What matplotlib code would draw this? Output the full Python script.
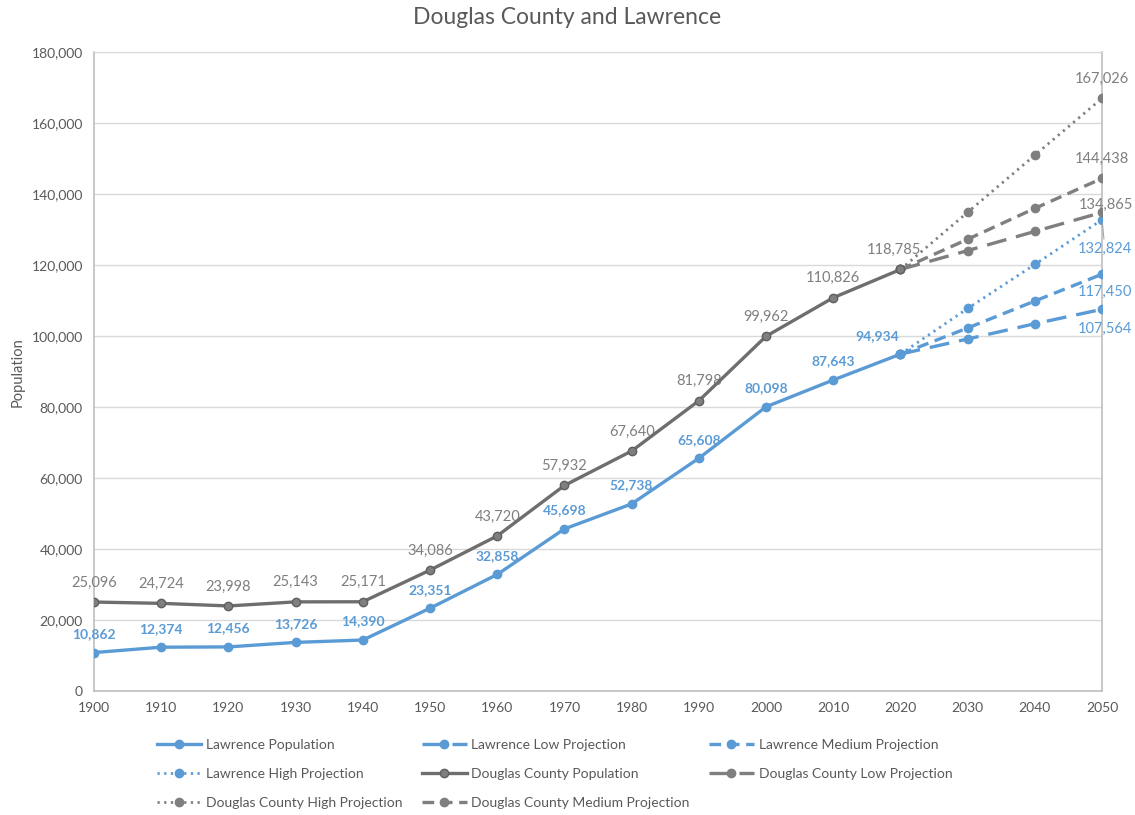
import matplotlib.pyplot as plt
from matplotlib.ticker import FuncFormatter

plt.rcParams['font.family'] = ['Lato', 'DejaVu Sans']

years = [1900, 1910, 1920, 1930, 1940, 1950, 1960, 1970, 1980, 1990, 2000, 2010, 2020]
lawrence = [10862, 12374, 12456, 13726, 14390, 23351, 32858, 45698, 52738, 65608, 80098, 87643, 94934]
douglas = [25096, 24724, 23998, 25143, 25171, 34086, 43720, 57932, 67640, 81798, 99962, 110826, 118785]

proj_years = [2020, 2030, 2040, 2050]
law_low = [94934, 99200, 103500, 107564]
law_med = [94934, 102300, 109900, 117450]
law_high = [94934, 107800, 120200, 132824]
dc_low = [118785, 124100, 129500, 134865]
dc_med = [118785, 127300, 136000, 144438]
dc_high = [118785, 134900, 151000, 167026]

BLUE = '#5B9BD5'
GRAY = '#7F7F7F'
DGRAY = '#6E6E6E'
TXT = '#595959'

fig = plt.figure(figsize=(11.35, 8.15), dpi=100)
ax = fig.add_axes([0.0828, 0.152, 0.8882, 0.784])

lw = 2.4
h = {}
h['lp'], = ax.plot(years, lawrence, color=BLUE, lw=lw, marker='o', ms=6,
                   label='Lawrence Population', zorder=4)
h['ll'], = ax.plot(proj_years, law_low, color=BLUE, lw=lw, ls=(0, (6, 3)), marker='o', ms=6,
                   label='Lawrence Low Projection', zorder=3)
h['lm'], = ax.plot(proj_years, law_med, color=BLUE, lw=lw, ls=(0, (3.5, 2)), marker='o', ms=6,
                   label='Lawrence Medium Projection', zorder=3)
h['lh'], = ax.plot(proj_years, law_high, color=BLUE, lw=2, ls=(0, (0.8, 1.6)), marker='o', ms=6,
                   label='Lawrence High Projection', zorder=3)
h['dp'], = ax.plot(years, douglas, color=DGRAY, lw=lw, marker='o', ms=6, mfc=GRAY, mec='#5f5f5f',
                   label='Douglas County Population', zorder=4)
h['dl'], = ax.plot(proj_years, dc_low, color=GRAY, lw=lw, ls=(0, (6, 3)), marker='o', ms=6,
                   label='Douglas County Low Projection', zorder=3)
h['dh'], = ax.plot(proj_years, dc_high, color=GRAY, lw=2, ls=(0, (0.8, 1.6)), marker='o', ms=6,
                   label='Douglas County High Projection', zorder=3)
h['dm'], = ax.plot(proj_years, dc_med, color=GRAY, lw=lw, ls=(0, (3.5, 2)), marker='o', ms=6,
                   label='Douglas County Medium Projection', zorder=3)

# data labels
for x, y in zip(years, lawrence):
    dx = -17 if x == 2020 else 0
    ax.annotate(f'{y:,}', (x, y), xytext=(dx, 9), textcoords='offset points',
                ha='center', va='bottom', color=BLUE, fontsize=10, fontweight='bold')
for x, y in zip(years, douglas):
    dx = -4.5 if x == 2020 else 0
    ax.annotate(f'{y:,}', (x, y), xytext=(dx, 9), textcoords='offset points',
                ha='center', va='bottom', color=GRAY, fontsize=10.5)

for s, dy in ((law_low, -9), (law_med, -8)):
    ax.annotate(f'{s[-1]:,}', (proj_years[-1], s[-1]), xytext=(2, dy), textcoords='offset points',
                ha='center', va='top', color=BLUE, fontsize=10.5, annotation_clip=False)
ax.annotate(f'{law_high[-1]:,}', (proj_years[-1], law_high[-1]), xytext=(2, -16),
            textcoords='offset points', ha='center', va='top', color=BLUE, fontsize=10.5,
            annotation_clip=False,
            arrowprops=dict(arrowstyle='-', color='#A6A6A6', lw=0.8, shrinkA=0, shrinkB=3))
for s in (dc_med, dc_high):
    ax.annotate(f'{s[-1]:,}', (proj_years[-1], s[-1]), xytext=(0, 9), textcoords='offset points',
                ha='center', va='bottom', color=GRAY, fontsize=10.5, annotation_clip=False)
ax.annotate(f'{dc_low[-1]:,}', (proj_years[-1], dc_low[-1]), xytext=(2.5, 0), textcoords='offset points',
            ha='center', va='bottom', color=GRAY, fontsize=10.5, annotation_clip=False)

ax.set_xlim(1900, 2050)
ax.set_ylim(0, 180000)
ax.set_xticks(range(1900, 2051, 10))
ax.set_yticks(range(0, 180001, 20000))
ax.yaxis.set_major_formatter(FuncFormatter(lambda v, p: f'{int(v):,}'))
ax.tick_params(length=0, labelsize=10, colors=TXT, pad=8)
ax.grid(axis='y', color='#D9D9D9', lw=1)
ax.set_axisbelow(True)
for side in ('left', 'right', 'bottom'):
    ax.spines[side].set_color('#BFBFBF')
    ax.spines[side].set_linewidth(1.2)
ax.spines['top'].set_color('#D9D9D9')

ax.set_ylabel('Population', color=TXT, fontsize=10.5, labelpad=5)
fig.text(0.5, 1 - 17 / 815, 'Douglas County and Lawrence', color=TXT, fontsize=16.5,
         ha='center', va='center')

# legend filled row by row like the original
order = ['lp', 'lh', 'dh', 'll', 'dp', 'dm', 'lm', 'dl']
leg = ax.legend([h[k] for k in order], [h[k].get_label() for k in order],
                loc='upper left', bbox_to_anchor=(0.05, -0.055), ncol=3, frameon=False,
                fontsize=10, handlelength=3.2, columnspacing=1.4, labelspacing=1.22,
                handletextpad=0.35)
for t in leg.get_texts():
    t.set_color(TXT)

fig.savefig('out.png', dpi=100)
